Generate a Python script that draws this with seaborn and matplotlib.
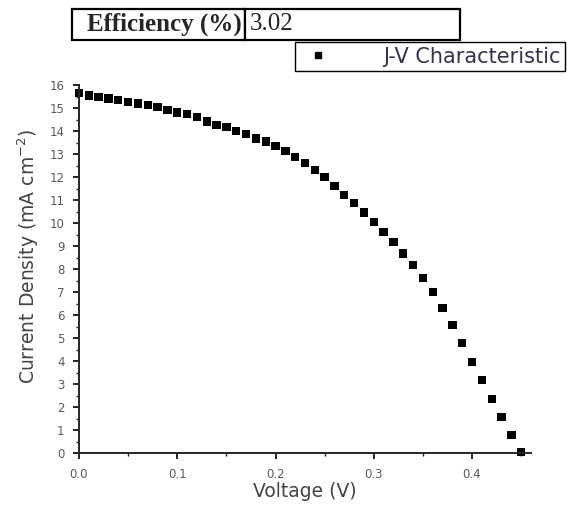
import matplotlib
matplotlib.use("Agg")
import pandas as pd
import matplotlib.pyplot as plt
import seaborn as sns
from matplotlib.ticker import MultipleLocator

# J-V data (V in volts, J in mA cm^-2)
voltage = [0.00, 0.01, 0.02, 0.03, 0.04, 0.05, 0.06, 0.07, 0.08, 0.09,
           0.10, 0.11, 0.12, 0.13, 0.14, 0.15, 0.16, 0.17, 0.18, 0.19,
           0.20, 0.21, 0.22, 0.23, 0.24, 0.25, 0.26, 0.27, 0.28, 0.29,
           0.30, 0.31, 0.32, 0.33, 0.34, 0.35, 0.36, 0.37, 0.38, 0.39,
           0.40, 0.41, 0.42, 0.43, 0.44, 0.45]
current = [15.64, 15.55, 15.49, 15.42, 15.35, 15.27, 15.20, 15.13, 15.03, 14.91,
           14.81, 14.73, 14.62, 14.42, 14.27, 14.16, 14.01, 13.88, 13.68, 13.55,
           13.36, 13.13, 12.86, 12.60, 12.30, 11.99, 11.62, 11.23, 10.86, 10.45,
           10.04, 9.60, 9.16, 8.68, 8.17, 7.60, 6.99, 6.29, 5.57, 4.77,
           3.96, 3.17, 2.36, 1.57, 0.78, 0.05]
efficiency = "3.02"

df = pd.DataFrame({"Voltage": voltage, "Current": current})

sns.set_theme(style="ticks")
plt.rcParams['font.family'] = ['DejaVu Sans']

fig = plt.figure(figsize=(5.67, 5.14), dpi=100)
ax = fig.add_axes([79 / 567, 61 / 514, (531 - 79) / 567, 368 / 514])

sns.scatterplot(data=df, x="Voltage", y="Current", marker="s", s=36,
                color="black", edgecolor="none", ax=ax, legend=False, clip_on=False)

ax.set_xlim(0, 0.46)
ax.set_ylim(0, 16)
ax.xaxis.set_major_locator(MultipleLocator(0.1))
ax.xaxis.set_minor_locator(MultipleLocator(0.05))
ax.yaxis.set_major_locator(MultipleLocator(1))
ax.yaxis.set_minor_locator(MultipleLocator(0.5))
ax.xaxis.set_major_formatter(plt.FuncFormatter(lambda v, p: f"{v:.1f}"))
ax.tick_params(which="major", direction="out", length=4.5, width=1.2,
               labelsize=8.5, labelcolor="#5a5a5a", colors="black", pad=6)
ax.tick_params(which="minor", direction="out", length=2.5, width=1)
for s in ["top", "right"]:
    ax.spines[s].set_visible(False)
for s in ["left", "bottom"]:
    ax.spines[s].set_linewidth(1.4)

ax.set_xlabel("Voltage (V)", fontsize=13.5, color="#444444")
ax.set_ylabel("Current Density (mA cm$^{-2}$)", fontsize=13.5, color="#444444")
ax.xaxis.set_label_coords(0.5, -0.078)
ax.yaxis.set_label_coords(-0.083, 0.535)

handle = plt.Line2D([], [], marker="s", linestyle="none", color="black", markersize=4.5)
fig.legend([handle], ["J-V Characteristic"], loc="upper right",
           bbox_to_anchor=(565 / 567, 1 - 42 / 514), fancybox=False,
           edgecolor="black", fontsize=15, handlelength=1.8, handletextpad=2.2,
           borderpad=0.22, borderaxespad=0, framealpha=1, labelcolor="#33334d")

# efficiency table at the top
tax = fig.add_axes([72 / 567, 1 - 40 / 514, (460 - 72) / 567, 31 / 514])
tax.axis("off")
tbl = tax.table(cellText=[["Efficiency (%)", efficiency]], bbox=[0, 0, 1, 1],
                colWidths=[173, 215], cellLoc="left")
tbl.auto_set_font_size(False)
for (r, c), cell in tbl.get_celld().items():
    cell.set_linewidth(1.6)
    cell.set_edgecolor("black")
    txt = cell.get_text()
    txt.set_fontfamily("Liberation Serif")
    txt.set_fontsize(18)
    if c == 0:
        txt.set_fontweight("bold")
        txt.set_horizontalalignment("right")
    cell.PAD = 0.02

fig.savefig("out.png", dpi=100)
